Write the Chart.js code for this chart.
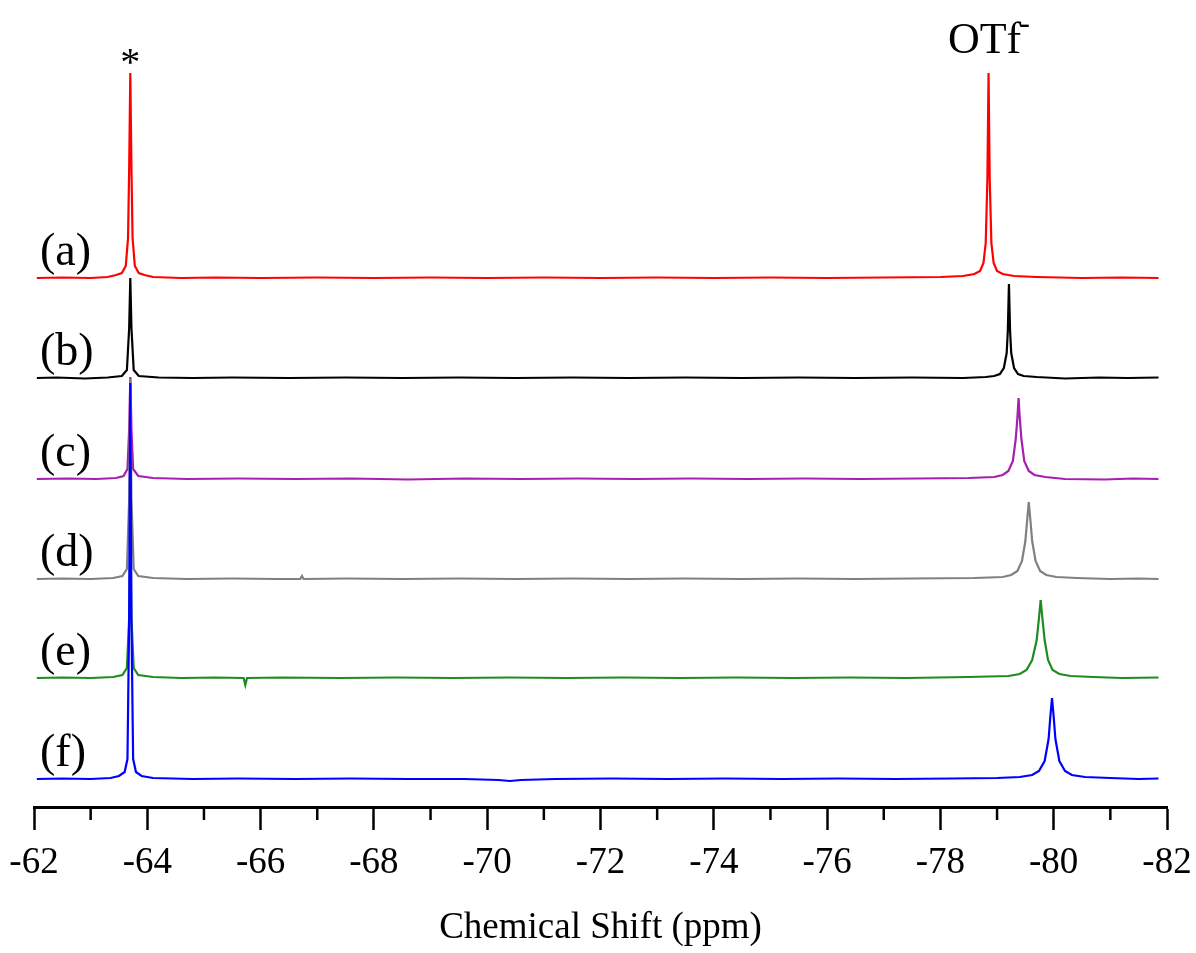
<!DOCTYPE html>
<html>
<head>
<meta charset="utf-8">
<script src="https://cdn.jsdelivr.net/npm/chart.js@4.4.1/dist/chart.umd.min.js"></script>
<style>
  body { margin: 0; background: #fff; }
  #wrap { width: 1196px; height: 953px; }
</style>
</head>
<body>
<div id="wrap"><canvas id="nmr" width="1196" height="953"></canvas></div>
<script>
// Axis ticks (ppm)
const majorTicks = [-62, -64, -66, -68, -70, -72, -74, -76, -78, -80, -82]
const minorTicks = [-63, -65, -67, -69, -71, -73, -75, -77, -79, -81]

// Trace names, top to bottom
const traceNames = ["(a)", "(b)", "(c)", "(d)", "(e)", "(f)"]

// Peak annotations: reference peak and triflate peak of trace (a)
const peakNames = ["*", "OTf"]
const peakShifts = [-63.70, -78.85]

// Spectra as [ppm, intensity] pairs
const specA = [
  [-62.05, 0.00], [-62.5, 0.005], [-63.0, 0.00], [-63.3, 0.01], [-63.45, 0.03], [-63.55, 0.05],
  [-63.62, 0.12], [-63.66, 0.4], [-63.68, 1.1], [-63.70, 2.05], [-63.72, 1.1], [-63.74, 0.4],
  [-63.78, 0.12], [-63.85, 0.05], [-63.95, 0.03], [-64.1, 0.01], [-64.6, 0.00], [-65.2, 0.005],
  [-66.0, 0.00], [-67.0, 0.005], [-68.0, 0.00], [-69.0, 0.005], [-70.0, 0.00], [-71.0, 0.005],
  [-72.0, 0.00], [-73.0, 0.005], [-74.0, 0.00], [-75.0, 0.005], [-76.0, 0.00], [-77.0, 0.005],
  [-78.0, 0.01], [-78.4, 0.02], [-78.6, 0.04], [-78.7, 0.07], [-78.76, 0.15], [-78.8, 0.35],
  [-78.83, 1.0], [-78.85, 2.05], [-78.87, 1.0], [-78.9, 0.35], [-78.94, 0.15], [-79.0, 0.07],
  [-79.1, 0.04], [-79.3, 0.02], [-79.7, 0.01], [-80.5, 0.00], [-81.2, 0.005], [-81.85, 0.00]
]
const specB = [
  [-62.05, 0.00], [-62.4, 0.005], [-62.9, -0.005], [-63.3, 0.005], [-63.55, 0.02], [-63.64, 0.08],
  [-63.68, 0.5], [-63.70, 1.0], [-63.72, 0.5], [-63.76, 0.08], [-63.85, 0.02], [-64.2, 0.005],
  [-64.8, 0.00], [-65.5, 0.005], [-66.5, 0.00], [-67.5, 0.005], [-68.5, 0.00], [-69.5, 0.005],
  [-70.5, 0.00], [-71.5, 0.005], [-72.5, 0.00], [-73.5, 0.005], [-74.5, 0.00], [-75.5, 0.005],
  [-76.5, 0.00], [-77.5, 0.005], [-78.4, 0.00], [-78.8, 0.01], [-78.95, 0.02], [-79.05, 0.04],
  [-79.12, 0.1], [-79.17, 0.25], [-79.19, 0.47], [-79.21, 0.94], [-79.23, 0.47], [-79.25, 0.25],
  [-79.3, 0.1], [-79.37, 0.04], [-79.47, 0.02], [-79.7, 0.01], [-80.2, -0.005], [-80.8, 0.005],
  [-81.3, 0.00], [-81.85, 0.005]
]
const specC = [
  [-62.05, 0.00], [-62.6, 0.005], [-63.1, 0.00], [-63.45, 0.01], [-63.58, 0.03], [-63.65, 0.1],
  [-63.68, 0.5], [-63.70, 1.02], [-63.72, 0.5], [-63.75, 0.1], [-63.84, 0.03], [-64.1, 0.01],
  [-64.7, 0.00], [-65.6, 0.005], [-66.6, 0.00], [-67.6, 0.005], [-68.6, -0.005], [-69.6, 0.005],
  [-70.6, 0.00], [-71.6, 0.005], [-72.6, 0.00], [-73.6, 0.005], [-74.6, 0.00], [-75.6, 0.005],
  [-76.6, 0.00], [-77.6, 0.005], [-78.5, 0.01], [-78.95, 0.02], [-79.1, 0.04], [-79.2, 0.08],
  [-79.28, 0.18], [-79.33, 0.4], [-79.36, 0.62], [-79.38, 0.81], [-79.40, 0.62], [-79.43, 0.4],
  [-79.48, 0.18], [-79.56, 0.08], [-79.66, 0.04], [-79.85, 0.02], [-80.2, 0.00], [-80.9, -0.005],
  [-81.4, 0.005], [-81.85, 0.00]
]
const specD = [
  [-62.05, 0.00], [-62.5, 0.005], [-63.0, 0.00], [-63.4, 0.01], [-63.56, 0.03], [-63.64, 0.1],
  [-63.68, 0.8], [-63.70, 2.0], [-63.72, 0.8], [-63.76, 0.1], [-63.84, 0.03], [-64.1, 0.01],
  [-64.7, 0.00], [-65.5, 0.005], [-66.3, 0.00], [-66.70, 0.00], [-66.73, 0.03], [-66.76, 0.00],
  [-67.5, 0.005], [-68.5, 0.00], [-69.5, 0.005], [-70.5, 0.00], [-71.5, 0.005], [-72.5, 0.00],
  [-73.5, 0.005], [-74.5, 0.00], [-75.5, 0.005], [-76.5, 0.00], [-77.5, 0.005], [-78.6, 0.01],
  [-79.1, 0.02], [-79.25, 0.04], [-79.36, 0.08], [-79.44, 0.18], [-79.50, 0.38], [-79.53, 0.58],
  [-79.56, 0.77], [-79.59, 0.58], [-79.62, 0.38], [-79.68, 0.18], [-79.76, 0.08], [-79.87, 0.04],
  [-80.05, 0.02], [-80.4, 0.01], [-81.0, 0.00], [-81.5, 0.005], [-81.85, 0.00]
]
const specE = [
  [-62.05, 0.00], [-62.5, 0.005], [-63.0, 0.00], [-63.4, 0.01], [-63.56, 0.03], [-63.64, 0.1],
  [-63.68, 0.6], [-63.70, 1.5], [-63.72, 0.6], [-63.76, 0.1], [-63.84, 0.03], [-64.1, 0.01],
  [-64.6, 0.00], [-65.2, 0.005], [-65.70, 0.00], [-65.73, -0.07], [-65.76, 0.00], [-66.4, 0.005],
  [-67.4, 0.00], [-68.4, 0.005], [-69.4, 0.00], [-70.4, 0.005], [-71.4, 0.00], [-72.4, 0.005],
  [-73.4, 0.00], [-74.4, 0.005], [-75.4, 0.00], [-76.4, 0.005], [-77.4, 0.00], [-78.5, 0.01],
  [-79.2, 0.02], [-79.4, 0.04], [-79.52, 0.08], [-79.62, 0.18], [-79.70, 0.38], [-79.74, 0.6],
  [-79.77, 0.78], [-79.80, 0.6], [-79.84, 0.38], [-79.90, 0.18], [-79.98, 0.08], [-80.1, 0.04],
  [-80.3, 0.02], [-80.7, 0.01], [-81.2, 0.00], [-81.85, 0.005]
]
const specF = [
  [-62.05, 0.00], [-62.5, 0.005], [-63.0, 0.00], [-63.35, 0.01], [-63.5, 0.03], [-63.6, 0.07],
  [-63.65, 0.2], [-63.68, 1.6], [-63.70, 3.96], [-63.72, 1.6], [-63.75, 0.2], [-63.8, 0.07],
  [-63.9, 0.03], [-64.1, 0.01], [-64.8, 0.00], [-65.6, 0.005], [-66.6, 0.00], [-67.6, 0.005],
  [-68.6, 0.00], [-69.6, 0.00], [-70.2, -0.01], [-70.4, -0.02], [-70.6, -0.01], [-71.2, 0.00],
  [-72.2, 0.005], [-73.2, 0.00], [-74.2, 0.005], [-75.2, 0.00], [-76.2, 0.005], [-77.2, 0.00],
  [-78.2, 0.005], [-79.0, 0.01], [-79.4, 0.02], [-79.62, 0.04], [-79.74, 0.08], [-79.84, 0.18],
  [-79.91, 0.4], [-79.94, 0.62], [-79.97, 0.81], [-80.00, 0.62], [-80.03, 0.4], [-80.10, 0.18],
  [-80.2, 0.08], [-80.32, 0.04], [-80.55, 0.02], [-81.0, 0.01], [-81.5, 0.00], [-81.85, 0.005]
]

const spectra = [specA, specB, specC, specD, specE, specF]

// Vertical stacking of the traces (in y-scale units, 1 unit ~ 100 px)
const stackOffsets = [5.29, 4.29, 3.28, 2.28, 1.29, 0.28]
const traceColors = ["#ff0000", "#000000", "#a61fb0", "#808080", "#1f8c1f", "#0000ff"]
const drawOrder = [1, 2, 6, 5, 4, 3]

const serif = "'Liberation Serif', 'Times New Roman', serif"

const datasets = spectra.map((spec, i) => ({
  label: traceNames[i],
  data: spec.map(([ppm, v]) => ({ x: ppm, y: stackOffsets[i] + v })),
  borderColor: traceColors[i],
  borderWidth: 2.2,
  pointRadius: 0,
  tension: 0,
  fill: false,
  order: drawOrder[i],
}))

// Minor ticks, trace labels and peak labels
const annotate = {
  id: "annotate",
  afterDraw(chart) {
    const { ctx, chartArea } = chart
    const x = chart.scales.x
    const y = chart.scales.y
    ctx.save()

    ctx.strokeStyle = "#000"
    ctx.lineWidth = 2.5
    minorTicks.forEach((v) => {
      const px = x.getPixelForValue(v)
      ctx.beginPath()
      ctx.moveTo(px, chartArea.bottom)
      ctx.lineTo(px, chartArea.bottom + 13)
      ctx.stroke()
    })

    ctx.fillStyle = "#000"
    ctx.font = "46px " + serif
    ctx.textAlign = "left"
    ctx.textBaseline = "middle"
    traceNames.forEach((name, i) => {
      ctx.fillText(name, 40, y.getPixelForValue(stackOffsets[i]) - 25)
    })

    // asterisk over the reference peak
    ctx.textAlign = "center"
    ctx.textBaseline = "alphabetic"
    ctx.font = "40px " + serif
    ctx.fillText(peakNames[0], x.getPixelForValue(peakShifts[0]), 75)

    // OTf- over the triflate peak
    ctx.font = "44px " + serif
    const cx = x.getPixelForValue(peakShifts[1]) - 4
    ctx.fillText(peakNames[1], cx, 53)
    const w = ctx.measureText(peakNames[1]).width
    ctx.font = "32px " + serif
    ctx.textAlign = "left"
    ctx.fillText("-", cx + w / 2 - 2, 33)

    ctx.restore()
  },
}

new Chart(document.getElementById("nmr"), {
  type: "line",
  data: { datasets },
  options: {
    responsive: false,
    animation: false,
    devicePixelRatio: 1,
    layout: { padding: { top: 20, left: 34, right: 29, bottom: 0 } },
    plugins: { legend: { display: false }, tooltip: { enabled: false } },
    scales: {
      x: {
        type: "linear",
        reverse: true,
        min: -82,
        max: -62,
        afterBuildTicks: (s) => { s.ticks = majorTicks.map((v) => ({ value: v })) },
        afterFit: (s) => {
          s.height = 146
          s.paddingLeft = 0
          s.paddingRight = 0
        },
        border: { display: true, color: "#000", width: 3 },
        grid: { display: true, drawOnChartArea: false, drawTicks: true, tickLength: 23, tickWidth: 2.5, tickColor: "#000" },
        ticks: {
          padding: 11,
          color: "#000",
          autoSkip: false,
          maxRotation: 0,
          font: { family: serif, size: 37 },
          callback: (v) => String(v),
        },
        title: {
          display: true,
          text: "Chemical Shift (ppm)",
          color: "#000",
          font: { family: serif, size: 37, lineHeight: 1 },
          padding: { top: 0, bottom: 6 },
        },
      },
      y: { display: false, min: 0, max: 7.87 },
    },
  },
  plugins: [annotate],
})
</script>
</body>
</html>
